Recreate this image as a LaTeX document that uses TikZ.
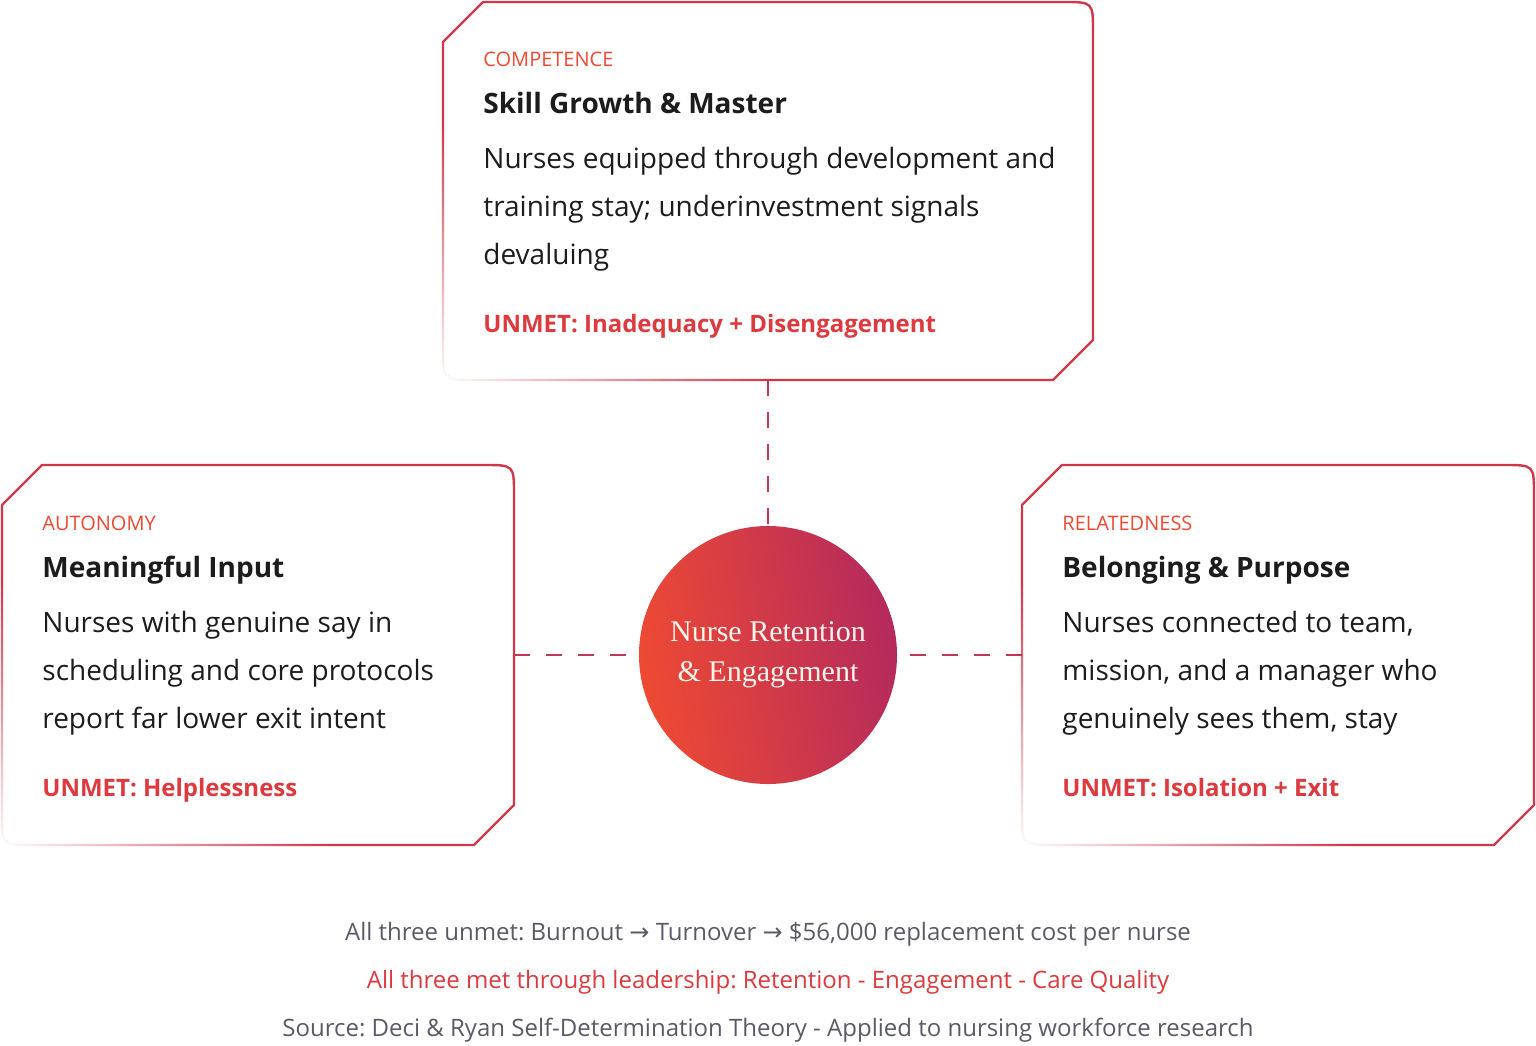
\documentclass[tikz,border=0pt]{standalone}
\usepackage{fontspec}
\setmainfont{Open Sans}
\newfontfamily\serifhub{Liberation Serif}
\newfontfamily\arrowfont{DejaVu Sans}
\frenchspacing
\usetikzlibrary{fadings,calc}
\definecolor{tangerine}{HTML}{EE4A33}
\definecolor{berry}{HTML}{B42A5C}
\definecolor{unmetred}{HTML}{DC3A3E}
\definecolor{ink}{HTML}{1C1C1C}
\definecolor{slate}{HTML}{5A5A66}
% chamfered card: name, left, top, right, bottom
\newcommand\needcard[5]{%
  \draw[line width=1.2pt,berry!55!tangerine,line join=round]($(#2,#3)+(0,40)$)--($(#2,#3)+(40,0)$)--($(#4,#3)-(30,0)$)..controls(#4,#3)..($(#4,#3)+(0,30)$)--($(#4,#5)-(0,40)$)--($(#4,#5)-(40,0)$)--($(#2,#5)+(30,0)$)..controls(#2,#5)..($(#2,#5)-(0,30)$)--cycle;
  \fill[white,path fading=north]($(#2,#3)+(-4,120)$)rectangle($(#2,#5)+(5,4)$);
  \fill[white,path fading=east]($(#2,#5)+(-4,4)$)rectangle($(#2,#5)+(330,-4)$);
  \coordinate(#1-n)at($(#2,#3)!.5!(#4,#3)$);\coordinate(#1-s)at($(#2,#5)!.5!(#4,#5)$);
  \coordinate(#1-w)at($(#2,#3)!.5!(#2,#5)$);\coordinate(#1-e)at($(#4,#3)!.5!(#4,#5)$);}
\newcommand\cardtext[8]{%
  \node[kind](#1-k)at(#2,#3){#4};
  \node[head](#1-h)at(#2,#3+47){#5};
  \node[body](#1-b)at(#2,#3+#8){#6};
  \node[unmet](#1-u)at(#2,#3+266){#7};}
\tikzset{kind/.style={anchor=base west,inner sep=0,text=tangerine,font=\fontsize{10}{12}\selectfont},
  head/.style={anchor=base west,inner sep=0,text=ink,font=\fontsize{14}{16}\selectfont\bfseries},
  body/.style={anchor=base west,inner sep=0,text=ink,font=\fontsize{14}{24}\selectfont,align=left},
  unmet/.style={anchor=base west,inner sep=0,text=unmetred,font=\fontsize{12}{14}\selectfont\bfseries},
  link/.style={berry!70!tangerine,line width=.8pt,dash pattern=on 8pt off 8pt},
  foot/.style={inner sep=0,anchor=base,font=\fontsize{12}{14}\selectfont}}
\begin{document}
\begin{tikzpicture}[x=0.5pt,y=-0.5pt]
  \useasboundingbox(0,0)rectangle(1536,1045);
  \needcard{comp}{443}{2}{1093}{380}
  \needcard{auto}{2}{465}{514}{845}
  \needcard{rel}{1022}{465}{1534}{845}
  \cardtext{comp}{483}{66}{COMPETENCE}{Skill Growth \& Master}{Nurses equipped through development and\\training stay; underinvestment signals\\devaluing}{UNMET: Inadequacy + Disengagement}{198}
  \cardtext{auto}{42}{530}{AUTONOMY}{Meaningful Input}{Nurses with genuine say in\\scheduling and core protocols\\report far lower exit intent}{UNMET: Helplessness}{198}
  \cardtext{rel}{1062}{530}{RELATEDNESS}{Belonging \& Purpose}{Nurses connected to team,\\mission, and a manager who\\genuinely sees them, stay}{UNMET: Isolation + Exit}{198}
  \node[circle,minimum size=129pt,inner sep=0,left color=tangerine,right color=berry,shading angle=100,text=white!92!orange,align=center,font=\serifhub\fontsize{15}{20}\selectfont](hub)at(768,655){Nurse Retention\\\& Engagement};
  \draw[link](comp-s)--(hub);
  \draw[link](auto-e)--(hub);
  \draw[link](rel-w)--(hub);
  \node[foot,text=slate](cost)at(768,940){All three unmet: Burnout {\arrowfont→} Turnover {\arrowfont→} \$56,000 replacement cost per nurse};
  \node[foot,text=unmetred](met)at(768,988){All three met through leadership: Retention - Engagement - Care Quality};
  \node[foot,text=slate](src)at(768,1036){Source: Deci \& Ryan Self-Determination Theory - Applied to nursing workforce research};
\end{tikzpicture}
\end{document}
